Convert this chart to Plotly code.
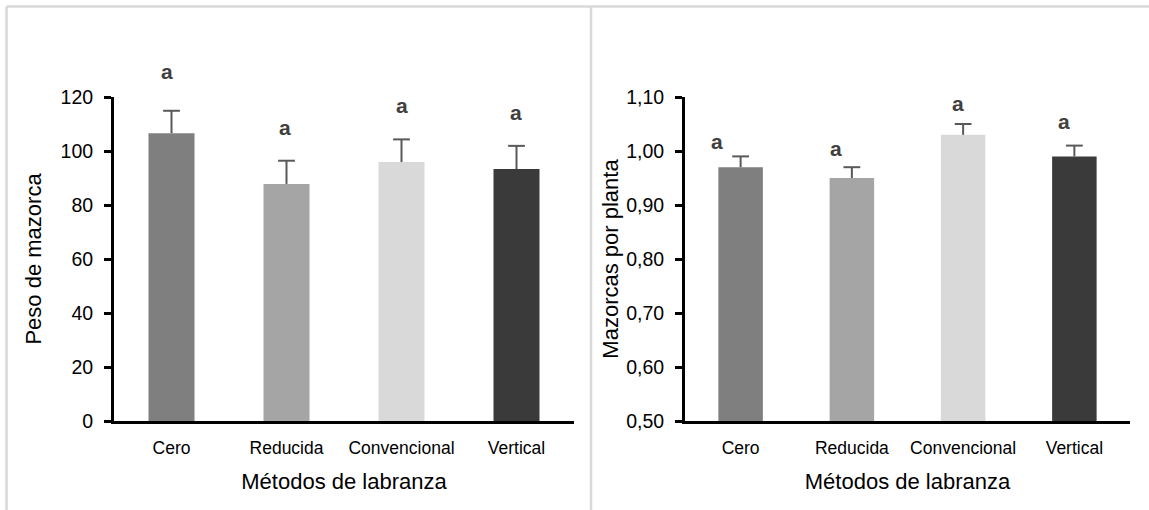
import plotly.graph_objects as go

# Tillage methods and measured means with standard errors
metodos = ["Cero", "Reducida", "Convencional", "Vertical"]
peso_mazorca = [106.6, 87.8, 95.9, 93.3]
peso_error = [8.3, 8.6, 8.4, 8.6]
mazorcas_planta = [0.97, 0.95, 1.03, 0.99]
mazorcas_error = [0.02, 0.02, 0.02, 0.02]

# Significance letters and their heights on each panel
letras = ["a", "a", "a", "a"]
letra_y_peso = [129.7, 108.8, 117.0, 114.5]
letra_y_mazorcas = [1.019, 1.006, 1.088, 1.056]

rango_peso = [0, 120]
rango_mazorcas = [0.5, 1.1]

colores = ["#7f7f7f", "#a5a5a5", "#d9d9d9", "#3a3a3a"]
color_error = "#595959"

W, H = 1149, 510
FONT = "Liberation Sans, Arial, sans-serif"


def px_x(p):
    return p / W


def px_y(p):
    return 1 - p / H


fig = go.Figure()


def add_panel(values, errors, xa, ya):
    fig.add_trace(go.Bar(
        x=metodos, y=values, width=0.4,
        marker=dict(color=colores, line=dict(width=0)),
        xaxis=xa, yaxis=ya, showlegend=False, hoverinfo="skip",
    ))
    # upper error whisker: stem from the bar top, cap marker at the end
    tops = [v + e for v, e in zip(values, errors)]
    fig.add_trace(go.Scatter(
        x=metodos, y=tops, mode="markers",
        marker=dict(symbol="line-ew-open", size=12, color=color_error,
                    line=dict(width=2, color=color_error)),
        error_y=dict(type="data", array=[0] * len(errors), arrayminus=errors,
                     symmetric=False, color=color_error, thickness=2, width=0),
        xaxis=xa, yaxis=ya, showlegend=False, hoverinfo="skip", cliponaxis=False,
    ))


add_panel(peso_mazorca, peso_error, "x", "y")
add_panel(mazorcas_planta, mazorcas_error, "x2", "y2")

ydom = [px_y(421), px_y(97)]
axis_common = dict(showline=True, linecolor="black", linewidth=3, showgrid=False,
                   zeroline=False, fixedrange=True, automargin=False)
xaxis_style = dict(ticks="", tickfont=dict(size=17.5, color="#000"), ticklabelstandoff=9,
                   title=dict(text="Métodos de labranza", font=dict(size=22, color="#000"),
                              standoff=17), **axis_common)
yaxis_style = dict(ticks="outside", ticklen=7, tickwidth=2.5, tickcolor="black",
                   tickfont=dict(size=19.5, color="#000"), ticklabelstandoff=7,
                   **axis_common)

fig.update_layout(
    width=W, height=H,
    margin=dict(l=0, r=0, t=0, b=0, autoexpand=False),
    paper_bgcolor="white", plot_bgcolor="white",
    separators=",.",
    font=dict(family=FONT, color="#000000"),
    xaxis=dict(domain=[px_x(114), px_x(574)], anchor="y", **xaxis_style),
    yaxis=dict(domain=ydom, anchor="x", range=rango_peso, dtick=20,
               title=dict(text="Peso de mazorca", font=dict(size=22, color="#000"), standoff=13),
               **yaxis_style),
    xaxis2=dict(domain=[px_x(685), px_x(1130)], anchor="y2", **xaxis_style),
    yaxis2=dict(domain=ydom, anchor="x2", range=rango_mazorcas, dtick=0.1, tickformat=".2f",
                title=dict(text="Mazorcas por planta", font=dict(size=22, color="#000"), standoff=2),
                **yaxis_style),
)

# Significance letters above the bars (placed in axis-domain units)
def add_letters(ys, rango, xa, ya, shifts):
    for m, l, yv, sh in zip(metodos, letras, ys, shifts):
        frac = (yv - rango[0]) / (rango[1] - rango[0])
        fig.add_annotation(x=m, y=frac, xref=xa, yref=ya + " domain", text="<b>" + l + "</b>",
                           showarrow=False, xshift=sh, yshift=13,
                           font=dict(size=21, color="#404040", family=FONT))


add_letters(letra_y_peso, rango_peso, "x", "y", [-5, -2, 0, -1])
add_letters(letra_y_mazorcas, rango_mazorcas, "x2", "y2", [-24, -16, -5, -10])

# Light gray panel frames
frame = dict(type="line", xref="paper", yref="paper", line=dict(color="#d9d9d9", width=2.5))
fig.add_shape(x0=px_x(6.5), x1=1, y0=px_y(6.5), y1=px_y(6.5), **frame)
fig.add_shape(x0=px_x(6.5), x1=px_x(6.5), y0=px_y(6.5), y1=0, **frame)
fig.add_shape(x0=px_x(591), x1=px_x(591), y0=px_y(6.5), y1=0, **frame)

fig.write_html("out.html")
